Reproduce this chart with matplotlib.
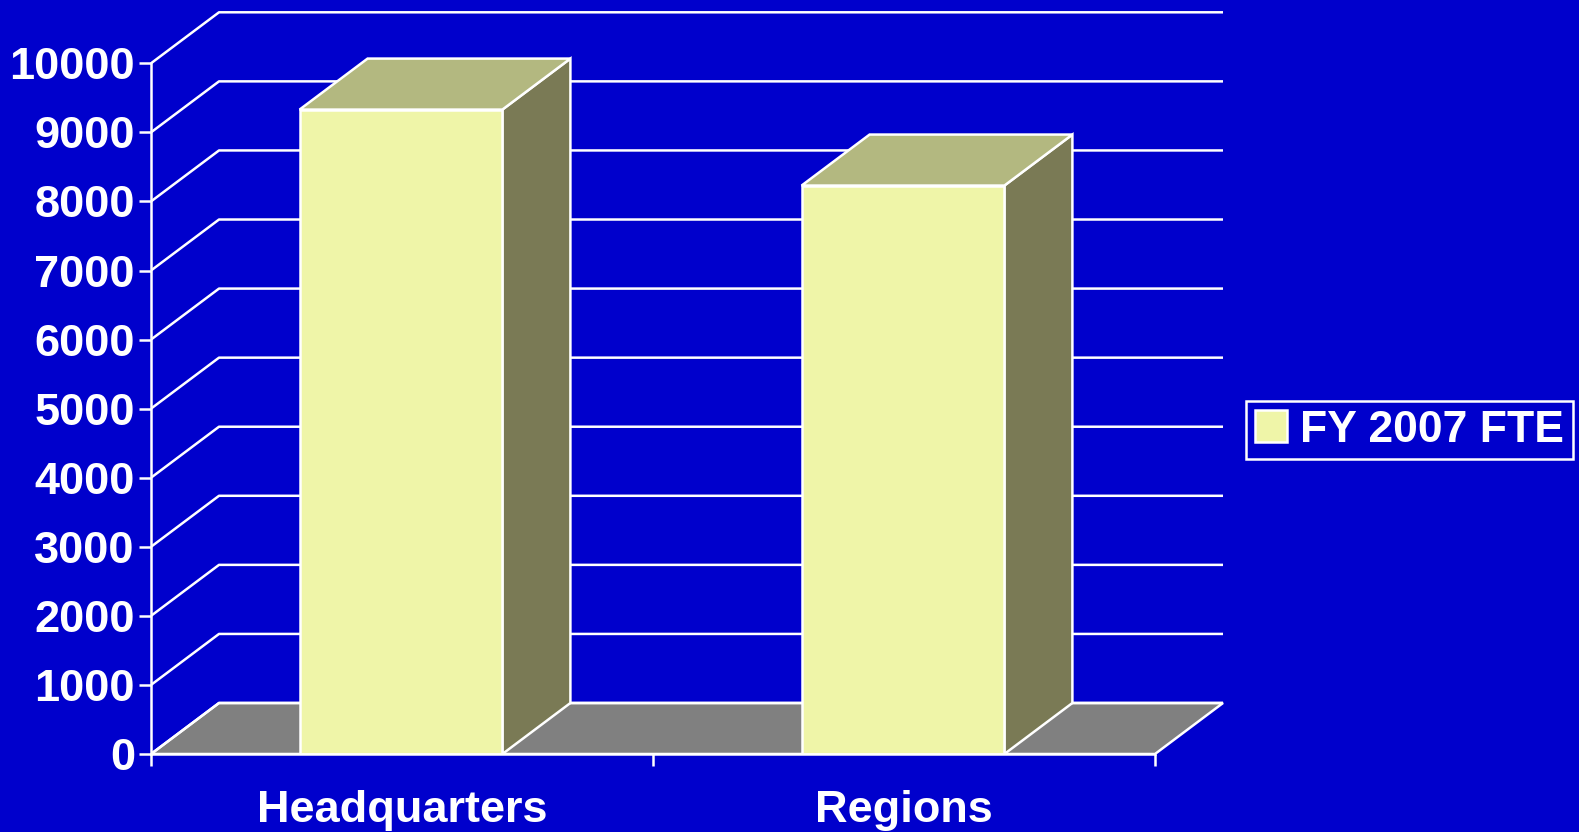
import matplotlib
matplotlib.use('Agg')
import matplotlib.pyplot as plt
from matplotlib.patches import Polygon, Rectangle

# data
categories = ['Headquarters', 'Regions']
fte_2007 = [9330, 8230]
y_ticks = list(range(0, 10001, 1000))
series_name = 'FY 2007 FTE'

BLUE = '#0000CC'
FRONT = '#EFF5A8'
TOP = '#B3B880'
SIDE = '#7A7A55'
FLOOR = '#808080'
LW = 1.8
FS = 32.5

plt.rcParams['font.family'] = ['Liberation Sans', 'DejaVu Sans']
plt.rcParams['font.weight'] = 'bold'

W, H = 1579, 832
fig = plt.figure(figsize=(W / 100, H / 100), dpi=100, facecolor=BLUE)

# pixel layout of the pseudo-3d box
x0, y0 = 151, 754          # front-left corner of the floor
cat_px = 502               # width of one category
px_per_unit = 69.07 / 1000
depth = (68, 51)           # back wall offset in px
right_px, top_px = 1228, 8

ax = fig.add_axes([x0 / W, (H - y0) / H, (right_px - x0) / W, (y0 - top_px) / H])
ax.set_xlim(0, (right_px - x0) / cat_px)
ax.set_ylim(0, (y0 - top_px) / px_per_unit)
ax.set_facecolor('none')

n = len(categories)
dx = depth[0] / cat_px
dy = depth[1] / px_per_unit

# floor
ax.add_patch(Polygon([(0, 0), (n, 0), (n + dx, dy), (dx, dy)], closed=True,
                     facecolor=FLOOR, edgecolor='white', lw=LW, zorder=1))

# side wall diagonals + back wall gridlines
for v in y_ticks:
    ax.plot([0, dx, n + dx], [v, v + dy, v + dy], color='white', lw=LW, zorder=2,
            solid_capstyle='butt')

# bars
bar_w = 0.404
for i, v in enumerate(fte_2007):
    left = i + (1 - bar_w) / 2 - 0.002
    right = left + bar_w
    ax.add_patch(Polygon([(right, 0), (right + dx, dy), (right + dx, v + dy), (right, v)],
                         closed=True, facecolor=SIDE, edgecolor='white', lw=LW, zorder=3))
    ax.add_patch(Polygon([(left, v), (right, v), (right + dx, v + dy), (left + dx, v + dy)],
                         closed=True, facecolor=TOP, edgecolor='white', lw=LW, zorder=3))
    ax.add_patch(Rectangle((left, 0), bar_w, v, facecolor=FRONT, edgecolor='white',
                           lw=LW, zorder=4))

# axes
for s in ['top', 'right']:
    ax.spines[s].set_visible(False)
ax.spines['left'].set_bounds(0, y_ticks[-1])
ax.spines['bottom'].set_bounds(0, n)
for s in ['left', 'bottom']:
    ax.spines[s].set_color('white')
    ax.spines[s].set_linewidth(LW)
    ax.spines[s].set_zorder(5)

ax.set_yticks(y_ticks)
ax.set_yticklabels([str(t) for t in y_ticks])
ax.tick_params(axis='y', colors='white', labelsize=FS, length=8.6, width=LW, pad=3)

ax.set_xticks(range(n + 1))
ax.set_xticklabels([''] * (n + 1))
ax.tick_params(axis='x', which='major', colors='white', length=8.6, width=LW)
ax.set_xticks([i + 0.5 for i in range(n)], minor=True)
ax.set_xticklabels(categories, minor=True)
ax.tick_params(axis='x', which='minor', length=0, labelsize=FS, labelcolor='white', pad=26)

handle = Rectangle((0, 0), 1, 1, facecolor=FRONT, edgecolor='white', lw=LW)
leg = fig.legend(handles=[handle], labels=[series_name], loc='center left',
                 bbox_to_anchor=(1246 / W, (H - 430) / H), frameon=True, fancybox=False,
                 facecolor=BLUE, edgecolor='white', framealpha=1,
                 prop={'size': 32, 'weight': 'bold'}, labelcolor='white',
                 handlelength=0.72, handleheight=0.72, borderpad=0.2,
                 handletextpad=0.3, borderaxespad=0)
leg.get_frame().set_linewidth(LW)

fig.savefig('out.png', dpi=100, facecolor=BLUE)
